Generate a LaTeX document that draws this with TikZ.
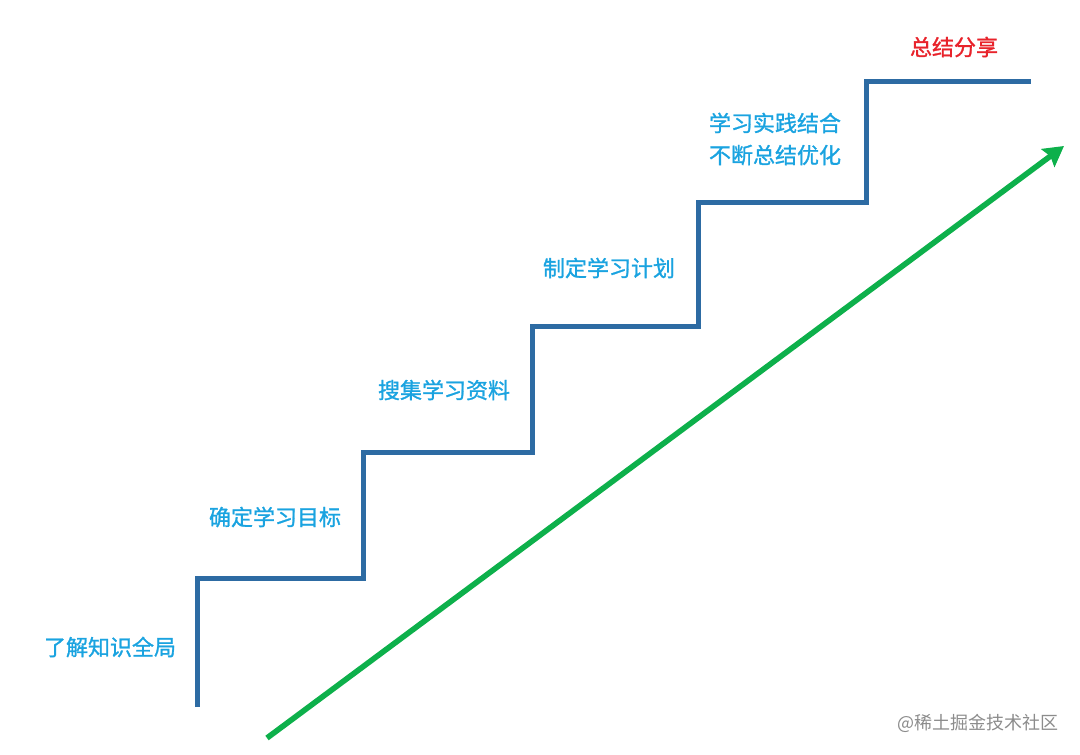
\documentclass[tikz,border=0pt]{standalone}
\usepackage{fontspec}
\newfontfamily\cjk[FakeBold=1.2]{Noto Sans CJK SC}
\newfontfamily\cjklight{Noto Sans CJK SC}
\usetikzlibrary{arrows.meta, positioning}
\definecolor{stairblue}{HTML}{2D6BA3}
\definecolor{textblue}{HTML}{1AA3E0}
\definecolor{arrowgreen}{HTML}{0DB04B}
\definecolor{topred}{HTML}{E8232B}

\begin{document}
\begin{tikzpicture}[x=0.5pt, y=-0.5pt]
		\tikzstyle{Label} = [font=\cjk\fontsize{11}{16}\selectfont, text=textblue, inner sep=0pt, align=center]
		\tikzstyle{stair} = [line width=2.5pt, stairblue]
		\tikzstyle{arrow} = [line width=2.8pt, arrowgreen, -{Stealth[length=10pt, width=11pt, inset=1.5pt]}]
		
		\useasboundingbox (0,0) rectangle (1080,754);
		
		% steps
		\draw [stair] (197,707) -- (197,578) -- (363,578) -- (363,452) -- (532,452) -- (532,326)
		-- (698,326) -- (698,203) -- (866,203) -- (866,82) -- (1031,82);
		
		% growth arrow
		\coordinate (start) at (267,738);
		\coordinate (end) at (1064,146);
		\draw [arrow] (start) -- (end);
		
		\node (s1) [Label] at (110,647) {了解知识全局};
		\node (s2) [Label] at (275,517) {确定学习目标};
		\node (s3) [Label] at (444,390) {搜集学习资料};
		\node (s4) [Label] at (609,268) {制定学习计划};
		\node (s5) [Label] at (775,139) {学习实践结合\\不断总结优化};
		\node (s6) [Label, text=topred] at (954,47) {总结分享};
		
		\node (mark) [font=\cjklight\fontsize{9}{11}\selectfont, text=black!45, inner sep=0pt] at (978,723) {@稀土掘金技术社区};
\end{tikzpicture}
\end{document}
